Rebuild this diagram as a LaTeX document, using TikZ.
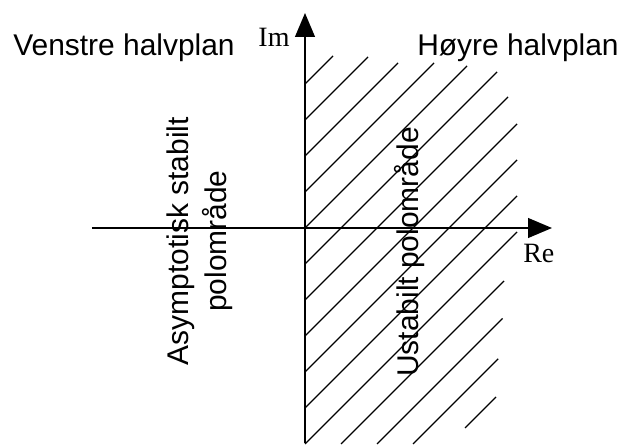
\documentclass[tikz,border=0pt]{standalone}
\usepackage{fontspec}
\setmainfont{Liberation Serif}
\setsansfont{Liberation Sans}
\usetikzlibrary{arrows.meta}
\begin{document}
\begin{tikzpicture}[
  axisline/.style={line width=1.4pt,-{Triangle[length=17pt,width=14pt]}},
  hatch/.style={line width=1pt},
  sflabel/.style={font=\sffamily\fontsize{21.3}{27}\selectfont,inner sep=0pt},
  rmlabel/.style={font=\fontsize{19.9}{22}\selectfont,inner sep=0pt}]
\useasboundingbox (-7.625,-5.475) rectangle (7.875,5.7);
% hatching of the right half plane
\foreach \c/\a/\b in {3.6/0/0.7, 2.7/0/1.575, 1.8/0/2.325, 0.9/0/3.225, 0/0/4.05,
    -0.9/0/4.8, -1.8/0/5.075, -2.7/0/5.3, -3.6/0/5.3, -4.5/0/5.3, -5.4/0/5.3,
    -6.3/0.9/4.975, -7.2/1.8/4.94, -8.1/2.7/4.83, -9/4/4.775}
  \draw[hatch] (\a,{\a+\c}) -- (\b,{\b+\c});
% axes
\coordinate (reL) at (-5.325,0);
\coordinate (reR) at (6.175,0);
\coordinate (imB) at (0,-5.375);
\coordinate (imT) at (0,5.375);
\draw[axisline] (reL) -- (reR);
\draw[axisline] (imB) -- (imT);
\node[rmlabel,anchor=base west] (im) at (-1.17,4.53) {Im};
\node[rmlabel,anchor=base west] (re) at (5.45,-0.875) {Re};
% half planes
\node[sflabel,anchor=base west] (venstre) at (-7.3,4.3) {Venstre halvplan};
\node[sflabel,anchor=base west] (hoyre) at (2.8,4.3) {Høyre halvplan};
\node[sflabel,rotate=90,align=center] (stabil) at (-2.625,-0.33) {Asymptotisk stabilt\\polområde};
\node[sflabel,rotate=90] (ustabil) at (2.625,-0.6) {Ustabilt polområde};
\end{tikzpicture}
\end{document}
